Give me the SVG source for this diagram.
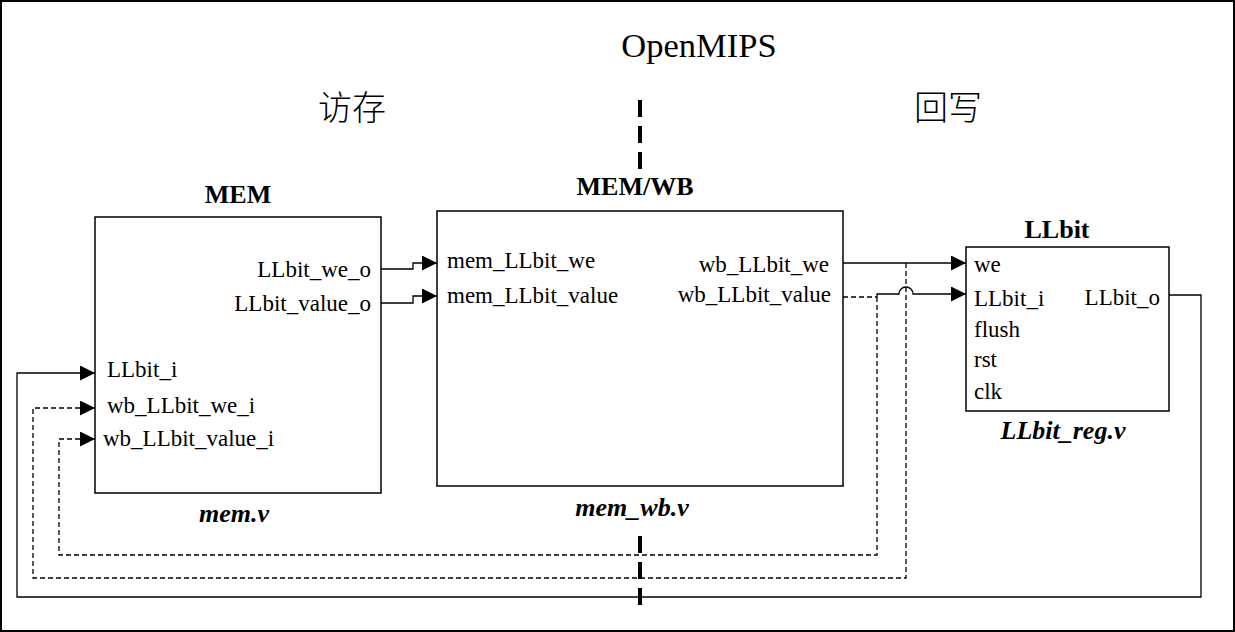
<svg xmlns="http://www.w3.org/2000/svg" width="1235" height="632" viewBox="0 0 1235 632">
<defs>
<marker id="arr" markerWidth="15" markerHeight="15" refX="15" refY="7.5" orient="auto" markerUnits="userSpaceOnUse">
<path d="M0,0 L15,7.5 L0,15 Z" fill="#000"/>
</marker>
<style>
.t{font-family:"Liberation Serif","Times New Roman",serif;font-size:23px;fill:#000}
.b{font-family:"Liberation Serif","Times New Roman",serif;font-size:26px;font-weight:bold;fill:#000}
.bi{font-family:"Liberation Serif","Times New Roman",serif;font-size:26px;font-weight:bold;font-style:italic;fill:#000}
.cn{font-family:"Noto Sans CJK SC",sans-serif;font-size:34px;font-weight:300;fill:#000}
.box{fill:#fff;stroke:#000;stroke-width:1.5}
.w{fill:none;stroke:#000;stroke-width:1.3}
.d{fill:none;stroke:#000;stroke-width:1.3;stroke-dasharray:5 3}
.sep{fill:none;stroke:#000;stroke-width:4;stroke-dasharray:17 9}
</style>
</defs>
<rect x="1" y="1" width="1233" height="630" fill="#fff" stroke="#000" stroke-width="2"/>
<text class="t" x="699" y="57" text-anchor="middle" style="font-size:34.5px">OpenMIPS</text>
<text class="cn" x="318" y="120">访存</text>
<text class="cn" x="914" y="120">回写</text>
<g id="separator">
<line class="sep" x1="640" y1="100" x2="640" y2="172"/>
<line class="sep" x1="640" y1="536" x2="640" y2="608"/>
</g>
<g id="connectors">
<path class="w" d="M381,269 H413 V263 H437" marker-end="url(#arr)"/>
<path class="w" d="M381,303 H413 V296 H437" marker-end="url(#arr)"/>
<path class="w" d="M843,263 H966" marker-end="url(#arr)"/>
<path class="d" d="M843,297 H877"/>
<path class="w" d="M877,297 V294 H899 A7,7 0 0 1 913,294 H966" marker-end="url(#arr)"/>
<path class="d" d="M906,263 V578 H33 V408 H95" marker-end="url(#arr)"/>
<path class="d" d="M877,297 V555 H59 V439 H95" marker-end="url(#arr)"/>
<path class="w" d="M1169,295 H1201 V597 H17 V373 H95" marker-end="url(#arr)"/>
</g>
<g id="MEM">
<rect class="box" x="95" y="217" width="286" height="276"/>
<text class="b" x="238" y="203" text-anchor="middle">MEM</text>
<text class="t" x="371" y="277" text-anchor="end">LLbit_we_o</text>
<text class="t" x="371" y="311" text-anchor="end">LLbit_value_o</text>
<text class="t" x="107" y="377">LLbit_i</text>
<text class="t" x="107" y="413">wb_LLbit_we_i</text>
<text class="t" x="103" y="446">wb_LLbit_value_i</text>
<text class="bi" x="234" y="522" text-anchor="middle">mem.v</text>
</g>
<g id="MEM_WB">
<rect class="box" x="437" y="211" width="406" height="275"/>
<text class="b" x="635" y="195" text-anchor="middle">MEM/WB</text>
<text class="t" x="447" y="268">mem_LLbit_we</text>
<text class="t" x="447" y="303">mem_LLbit_value</text>
<text class="t" x="829" y="272" text-anchor="end">wb_LLbit_we</text>
<text class="t" x="831" y="302" text-anchor="end">wb_LLbit_value</text>
<text class="bi" x="632" y="516" text-anchor="middle">mem_wb.v</text>
</g>
<g id="LLbit">
<rect class="box" x="966" y="247" width="203" height="164"/>
<text class="b" x="1057" y="238" text-anchor="middle">LLbit</text>
<text class="t" x="974" y="272">we</text>
<text class="t" x="974" y="306">LLbit_i</text>
<text class="t" x="974" y="337">flush</text>
<text class="t" x="974" y="367">rst</text>
<text class="t" x="974" y="399">clk</text>
<text class="t" x="1160" y="305" text-anchor="end">LLbit_o</text>
<text class="bi" x="1063" y="439" text-anchor="middle">LLbit_reg.v</text>
</g>
</svg>
